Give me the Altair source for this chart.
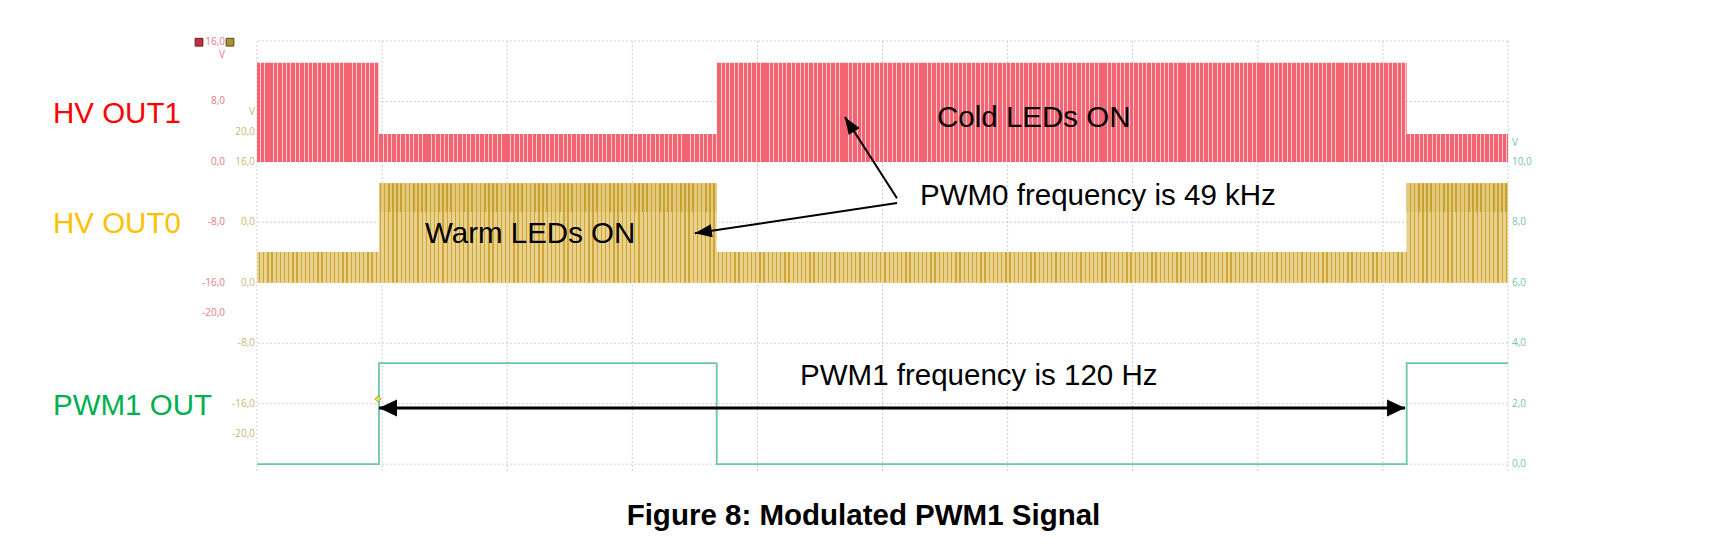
import math
import altair as alt
import pandas as pd

# ---------------- data (screen divisions: 10 across, 0 = PWM1 ground line) ----------------
edge_t = [0.0, 0.975, 3.675, 9.19, 10.0]
hv_out1_top = [6.64, 5.46, 6.64, 5.46, 5.46]
hv_out1_base = [5.0, 5.0, 5.0, 5.0, 5.0]
hv_out0_top = [3.51, 4.645, 3.51, 4.645, 4.645]
hv_out0_base = [3.0, 3.0, 3.0, 3.0, 3.0]
hv_out0_band = [3.51, 4.17, 3.51, 4.17, 4.17]
pwm1_level = [0.0, 1.67, 0.0, 1.67, 1.67]

grid_x = [0, 1, 2, 3, 4, 5, 6, 7, 8, 9, 10]
grid_y = [0, 1, 2, 3, 4, 5, 6, 7]

red_labels = ["16,0", "V", "8,0", "0,0", "-8,0", "-16,0", "-20,0"]
red_label_y = [6.98, 6.77, 6.01, 5.0, 4.0, 3.0, 2.5]
gold_labels = ["V", "20,0", "16,0", "0,0", "0,0", "-8,0", "-16,0", "-20,0"]
gold_label_y = [5.82, 5.49, 5.0, 4.0, 3.0, 2.0, 1.0, 0.5]
teal_labels = ["V", "10,0", "8,0", "6,0", "4,0", "2,0", "0,0"]
teal_label_y = [5.31, 5.0, 4.0, 3.0, 2.0, 1.0, 0.0]

channel_names = ["HV OUT1", "HV OUT0", "PWM1 OUT"]
channel_name_y = [5.643, 3.823, 0.812]

notes = ["Cold LEDs ON", "PWM0 frequency is 49 kHz", "Warm LEDs ON", "PWM1 frequency is 120 Hz"]
note_x = [5.436, 5.30, 1.343, 4.341]
note_y = [5.577, 4.286, 3.658, 1.309]

arrow_from_x = [5.116, 5.116]
arrow_from_y = [4.40, 4.32]
arrow_to_x = [4.70, 3.50]
arrow_to_y = [5.74, 3.82]

span_start = 0.975
span_end = 9.177
span_y = 0.928

marker_t = [0.967]
marker_y = [1.077]

caption = "Figure 8: Modulated PWM1 Signal"
caption_x = 4.848
caption_y = -1.007

# ---------------- layout ----------------
W, H = 1251, 431
X_DOM = [0, 10]
Y_DOM = [-0.13, 7]
PX_X = W / (X_DOM[1] - X_DOM[0])
PX_Y = H / (Y_DOM[1] - Y_DOM[0])
xs = alt.Scale(domain=X_DOM, nice=False, zero=False)
ys = alt.Scale(domain=Y_DOM, nice=False, zero=False)
FONT = "Liberation Sans"


def stripes(base, accent, n, a, b):
    stops = []
    for i in range(n):
        o0 = i / n
        o1 = (i + a) / n
        o2 = (i + b) / n
        stops += [(o0, base), (o1, base), (o1, accent), (o2, accent), (o2, base)]
    stops.append((1.0, base))
    return alt.LinearGradient(
        gradient="linear", x1=0, x2=1, y1=0, y2=0,
        stops=[alt.GradientStop(offset=o, color=c) for o, c in stops],
    )


sig = pd.DataFrame({
    "t": edge_t,
    "hv1_top": hv_out1_top, "hv1_base": hv_out1_base,
    "hv0_top": hv_out0_top, "hv0_base": hv_out0_base, "hv0_band": hv_out0_band,
    "pwm1": pwm1_level,
})

grid_v = alt.Chart(pd.DataFrame({"x": grid_x})).mark_rule(
    color="#c9d2d8", strokeDash=[2, 2], strokeWidth=1
).encode(x=alt.X("x:Q", scale=xs, axis=None))
grid_h = alt.Chart(pd.DataFrame({"y": grid_y})).mark_rule(
    color="#c9d2d8", strokeDash=[2, 2], strokeWidth=1
).encode(y=alt.Y("y:Q", scale=ys, axis=None))


def env(top, base, fill):
    return alt.Chart(sig).mark_area(interpolate="step-after", fill=fill, opacity=1).encode(
        x=alt.X("t:Q", scale=xs, axis=None),
        y=alt.Y(top + ":Q", scale=ys, axis=None),
        y2=base + ":Q",
    )


hv1 = env("hv1_top", "hv1_base", stripes("#f36473", "#fccad0", 285, 0.62, 0.84))
hv0 = env("hv0_top", "hv0_base", stripes("#e8d28e", "#cda635", 300, 0.45, 0.76))
hv0_band = env("hv0_top", "hv0_band", stripes("#e2c97c", "#c9a12e", 300, 0.40, 0.80))

pwm = alt.Chart(sig).mark_line(
    interpolate="step-after", color="#6cc6ae", strokeWidth=1.8
).encode(
    x=alt.X("t:Q", scale=xs, axis=None),
    y=alt.Y("pwm1:Q", scale=ys, axis=None),
)


def label_col(labels, ys_, color, xpx, align):
    return alt.Chart(pd.DataFrame({"lab": labels, "y": ys_})).mark_text(
        font="Open Sans", fontSize=10, color=color, align=align, baseline="middle"
    ).encode(x=alt.value(xpx), y=alt.Y("y:Q", scale=ys, axis=None), text="lab:N")


red_col = label_col(red_labels, red_label_y, "#e8788a", -32, "right")
gold_col = label_col(gold_labels, gold_label_y, "#cbb676", -2, "right")
teal_col = label_col(teal_labels, teal_label_y, "#78c3ae", W + 4, "left")

icons = alt.Chart(pd.DataFrame({"y": [6.98, 6.98], "k": ["r", "g"], "px": [-58, -27]})).mark_point(
    shape="square", filled=True, size=60, opacity=1, strokeWidth=1
).encode(
    x=alt.X("px:Q", scale=None, axis=None),
    y=alt.Y("y:Q", scale=ys, axis=None),
    fill=alt.Fill("k:N", scale=alt.Scale(domain=["r", "g"], range=["#c4303e", "#a8912e"]), legend=None),
    stroke=alt.Stroke("k:N", scale=alt.Scale(domain=["r", "g"], range=["#6a1a20", "#5a4a14"]), legend=None),
)

names = alt.Chart(pd.DataFrame({"name": channel_names, "y": channel_name_y})).mark_text(
    font=FONT, fontSize=29.5, align="left", baseline="alphabetic"
).encode(
    x=alt.value(-204),
    y=alt.Y("y:Q", scale=ys, axis=None),
    text="name:N",
    color=alt.Color("name:N", scale=alt.Scale(domain=channel_names, range=["#ff0000", "#ffc000", "#00b050"]), legend=None),
)

note_layer = alt.Chart(pd.DataFrame({"txt": notes, "x": note_x, "y": note_y})).mark_text(
    font=FONT, fontSize=29.5, align="left", baseline="alphabetic", color="#000000"
).encode(
    x=alt.X("x:Q", scale=xs, axis=None),
    y=alt.Y("y:Q", scale=ys, axis=None),
    text="txt:N",
)

# arrows (lines + heads)
arr = pd.DataFrame({
    "x": arrow_from_x + [(span_start + span_end) / 2] * 2,
    "y": arrow_from_y + [span_y, span_y],
    "x2": arrow_to_x + [span_start, span_end],
    "y2": arrow_to_y + [span_y, span_y],
    "w": ["thin", "thin", "thick", "thick"],
})
arr["ang"] = [
    (math.degrees(math.atan2((r.x2 - r.x) * PX_X, (r.y2 - r.y) * PX_Y)) + 360) % 360
    for r in arr.itertuples()
]

arrow_lines = alt.Chart(arr).mark_rule(color="#000000").encode(
    x=alt.X("x:Q", scale=xs, axis=None),
    y=alt.Y("y:Q", scale=ys, axis=None),
    x2="x2:Q",
    y2="y2:Q",
    strokeWidth=alt.StrokeWidth("w:N", scale=alt.Scale(domain=["thin", "thick"], range=[2, 3]), legend=None),
)
head_thin = alt.Chart(arr[arr.w == "thin"]).mark_point(
    shape="M0,0L-0.65,1.7L0.65,1.7Z", filled=True, size=400, opacity=1, color="#000000", strokeWidth=0
).encode(
    x=alt.X("x2:Q", scale=xs, axis=None),
    y=alt.Y("y2:Q", scale=ys, axis=None),
    angle=alt.Angle("ang:Q", scale=None),
)
head_thick = alt.Chart(arr[arr.w == "thick"]).mark_point(
    shape="M0,0L-0.85,1.8L0.85,1.8Z", filled=True, size=400, opacity=1, color="#000000", strokeWidth=0
).encode(
    x=alt.X("x2:Q", scale=xs, axis=None),
    y=alt.Y("y2:Q", scale=ys, axis=None),
    angle=alt.Angle("ang:Q", scale=None),
)

marker = alt.Chart(pd.DataFrame({"t": marker_t, "y": marker_y})).mark_point(
    shape="diamond", filled=True, size=40, opacity=1, color="#e6e23a", stroke="#a09a30", strokeWidth=0.8
).encode(
    x=alt.X("t:Q", scale=xs, axis=None),
    y=alt.Y("y:Q", scale=ys, axis=None),
)

cap = alt.Chart(pd.DataFrame({"txt": [caption], "x": [caption_x], "y": [caption_y]})).mark_text(
    font=FONT, fontSize=29.5, fontWeight="bold", align="center", baseline="alphabetic", color="#000000"
).encode(
    x=alt.X("x:Q", scale=xs, axis=None),
    y=alt.Y("y:Q", scale=ys, axis=None),
    text="txt:N",
)

chart = alt.layer(
    grid_v, grid_h, hv1, hv0, hv0_band, pwm, red_col, gold_col, teal_col, icons, names,
    arrow_lines, head_thin, head_thick, marker, note_layer, cap,
).resolve_scale(fill="independent", stroke="independent", color="independent", strokeWidth="independent").properties(
    width=W, height=H,
    autosize=alt.AutoSizeParams(type="none"),
    padding={"left": 249, "top": 33, "right": 195, "bottom": 60},
    background="white",
).configure_view(stroke=None)

chart.save("out.html", embed_options={"renderer": "svg", "actions": False})
